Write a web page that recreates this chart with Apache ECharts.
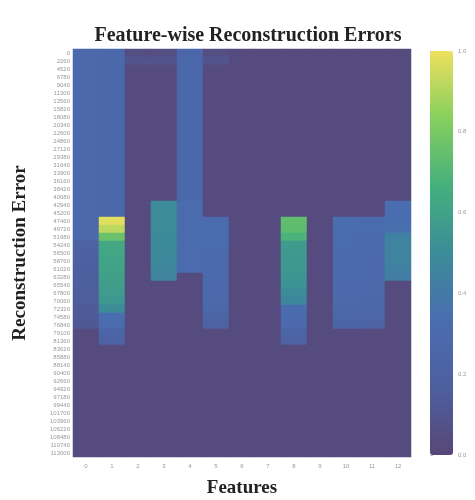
<!DOCTYPE html>
<html>
<head>
<meta charset="utf-8">
<script src="https://cdn.jsdelivr.net/npm/echarts@6/dist/echarts.min.js"></script>
<style>html,body{margin:0;padding:0;background:#fff;}#c{width:475px;height:500px;}</style>
</head>
<body>
<div id="c"></div>
<script>
var features = ['0','1','2','3','4','5','6','7','8','9','10','11','12'];
var rowLabels = ['0','2260','4520','6780','9040','11300','13560','15820','18080','20340',
  '22600','24860','27120','29380','31640','33900','36160','38420','40680','42940',
  '45200','47460','49720','51980','54240','56500','58760','61020','63280','65540',
  '67800','70060','72320','74580','76840','79100','81360','83620','85880','88140',
  '90400','92660','94920','97180','99440','101700','103960','106220','108480','110740',
  '113000'];
var colorbarTicks = ['0.0','0.2','0.4','0.6','0.8','1.0'];

var f0 = [0.28,0.28,0.28,0.28,0.28,0.28,0.28,0.28,0.28,0.28,
  0.28,0.28,0.28,0.28,0.28,0.28,0.28,0.28,0.28,0.28,
  0.28,0.28,0.28,0.28,0.2,0.19,0.18,0.17,0.16,0.16,
  0.15,0.15,0.14,0.14,0.12,0.03,0.03,0.03,0.03,0.03,
  0.03,0.03,0.03,0.03,0.03,0.03,0.03,0.03,0.03,0.03,0.03];
var f1 = [0.27,0.27,0.27,0.27,0.27,0.27,0.27,0.27,0.27,0.27,
  0.27,0.27,0.27,0.27,0.27,0.27,0.27,0.27,0.27,0.27,
  0.27,0.98,0.92,0.76,0.63,0.62,0.61,0.6,0.59,0.58,
  0.57,0.55,0.5,0.33,0.31,0.24,0.2,0.03,0.03,0.03,
  0.03,0.03,0.03,0.03,0.03,0.03,0.03,0.03,0.03,0.03,0.03];
var f2 = [0.05,0.09,0.03,0.03,0.03,0.03,0.03,0.03,0.03,0.03,
  0.03,0.03,0.03,0.03,0.03,0.03,0.03,0.03,0.03,0.03,
  0.03,0.03,0.03,0.03,0.03,0.03,0.03,0.03,0.03,0.03,
  0.03,0.03,0.03,0.03,0.03,0.03,0.03,0.03,0.03,0.03,
  0.03,0.03,0.03,0.03,0.03,0.03,0.03,0.03,0.03,0.03,0.03];
var f3 = [0.05,0.09,0.03,0.03,0.03,0.03,0.03,0.03,0.03,0.03,
  0.03,0.03,0.03,0.03,0.03,0.03,0.03,0.03,0.03,0.5,
  0.5,0.5,0.5,0.49,0.49,0.48,0.48,0.47,0.45,0.03,
  0.03,0.03,0.03,0.03,0.03,0.03,0.03,0.03,0.03,0.03,
  0.03,0.03,0.03,0.03,0.03,0.03,0.03,0.03,0.03,0.03,0.03];
var f4 = [0.26,0.27,0.27,0.27,0.27,0.27,0.27,0.27,0.27,0.27,
  0.27,0.27,0.27,0.27,0.27,0.27,0.27,0.27,0.27,0.32,
  0.32,0.32,0.32,0.32,0.32,0.32,0.32,0.31,0.03,0.03,
  0.03,0.03,0.03,0.03,0.03,0.03,0.03,0.03,0.03,0.03,
  0.03,0.03,0.03,0.03,0.03,0.03,0.03,0.03,0.03,0.03,0.03];
var f5 = [0.05,0.09,0.03,0.03,0.03,0.03,0.03,0.03,0.03,0.03,
  0.03,0.03,0.03,0.03,0.03,0.03,0.03,0.03,0.03,0.03,
  0.03,0.31,0.31,0.31,0.31,0.3,0.3,0.3,0.3,0.29,
  0.29,0.28,0.27,0.22,0.2,0.03,0.03,0.03,0.03,0.03,
  0.03,0.03,0.03,0.03,0.03,0.03,0.03,0.03,0.03,0.03,0.03];
var f6 = [0.03,0.03,0.03,0.03,0.03,0.03,0.03,0.03,0.03,0.03,
  0.03,0.03,0.03,0.03,0.03,0.03,0.03,0.03,0.03,0.03,
  0.03,0.03,0.03,0.03,0.03,0.03,0.03,0.03,0.03,0.03,
  0.03,0.03,0.03,0.03,0.03,0.03,0.03,0.03,0.03,0.03,
  0.03,0.03,0.03,0.03,0.03,0.03,0.03,0.03,0.03,0.03,0.03];
var f7 = [0.03,0.03,0.03,0.03,0.03,0.03,0.03,0.03,0.03,0.03,
  0.03,0.03,0.03,0.03,0.03,0.03,0.03,0.03,0.03,0.03,
  0.03,0.03,0.03,0.03,0.03,0.03,0.03,0.03,0.03,0.03,
  0.03,0.03,0.03,0.03,0.03,0.03,0.03,0.03,0.03,0.03,
  0.03,0.03,0.03,0.03,0.03,0.03,0.03,0.03,0.03,0.03,0.03];
var f8 = [0.03,0.03,0.03,0.03,0.03,0.03,0.03,0.03,0.03,0.03,
  0.03,0.03,0.03,0.03,0.03,0.03,0.03,0.03,0.03,0.03,
  0.03,0.74,0.73,0.68,0.57,0.56,0.55,0.55,0.54,0.53,
  0.5,0.47,0.32,0.3,0.29,0.23,0.2,0.03,0.03,0.03,
  0.03,0.03,0.03,0.03,0.03,0.03,0.03,0.03,0.03,0.03,0.03];
var f9 = [0.03,0.03,0.03,0.03,0.03,0.03,0.03,0.03,0.03,0.03,
  0.03,0.03,0.03,0.03,0.03,0.03,0.03,0.03,0.03,0.03,
  0.03,0.03,0.03,0.03,0.03,0.03,0.03,0.03,0.03,0.03,
  0.03,0.03,0.03,0.03,0.03,0.03,0.03,0.03,0.03,0.03,
  0.03,0.03,0.03,0.03,0.03,0.03,0.03,0.03,0.03,0.03,0.03];
var f10 = [0.03,0.03,0.03,0.03,0.03,0.03,0.03,0.03,0.03,0.03,
  0.03,0.03,0.03,0.03,0.03,0.03,0.03,0.03,0.03,0.03,
  0.03,0.33,0.32,0.31,0.31,0.3,0.3,0.3,0.3,0.29,
  0.29,0.28,0.27,0.26,0.23,0.03,0.03,0.03,0.03,0.03,
  0.03,0.03,0.03,0.03,0.03,0.03,0.03,0.03,0.03,0.03,0.03];
var f11 = [0.03,0.03,0.03,0.03,0.03,0.03,0.03,0.03,0.03,0.03,
  0.03,0.03,0.03,0.03,0.03,0.03,0.03,0.03,0.03,0.03,
  0.03,0.32,0.31,0.3,0.3,0.3,0.29,0.29,0.29,0.28,
  0.28,0.27,0.26,0.25,0.22,0.03,0.03,0.03,0.03,0.03,
  0.03,0.03,0.03,0.03,0.03,0.03,0.03,0.03,0.03,0.03,0.03];
var f12 = [0.03,0.03,0.03,0.03,0.03,0.03,0.03,0.03,0.03,0.03,
  0.03,0.03,0.03,0.03,0.03,0.03,0.03,0.03,0.03,0.33,
  0.33,0.34,0.35,0.44,0.45,0.45,0.45,0.44,0.42,0.03,
  0.03,0.03,0.03,0.03,0.03,0.03,0.03,0.03,0.03,0.03,
  0.03,0.03,0.03,0.03,0.03,0.03,0.03,0.03,0.03,0.03,0.03];

var columns = [f0,f1,f2,f3,f4,f5,f6,f7,f8,f9,f10,f11,f12];
var data = [];
for (var c = 0; c < columns.length; c++) {
  for (var r = 0; r < rowLabels.length; r++) {
    data.push([c, r, columns[c][r]]);
  }
}

var serif = '"Liberation Serif", "DejaVu Serif", serif';
var chart = echarts.init(document.getElementById('c'), null, {renderer: 'canvas'});
chart.setOption({
  backgroundColor: '#ffffff',
  animation: false,
  title: {
    text: 'Feature-wise Reconstruction Errors',
    left: 243, top: 21, textAlign: 'center',
    textStyle: {fontFamily: serif, fontSize: 20, fontWeight: 'bold', color: '#222'}
  },
  grid: [
    {left: 73, width: 338, top: 49, height: 408, outerBoundsMode: 'none', containLabel: false,
     show: true, backgroundColor: '#584677', borderWidth: 0},
    {left: 430, width: 23, top: 51, height: 404, outerBoundsMode: 'none', containLabel: false}
  ],
  xAxis: [
    {
      type: 'category', data: features, gridIndex: 0,
      name: 'Features', nameLocation: 'middle', nameGap: 22,
      nameTextStyle: {fontFamily: serif, fontSize: 19, fontWeight: 'bold', color: '#222'},
      axisLine: {show: false}, axisTick: {show: false},
      splitLine: {show: false}, splitArea: {show: false},
      axisLabel: {fontSize: 6, color: '#999', margin: 6}
    },
    {type: 'value', gridIndex: 1, show: false, min: 0, max: 1, splitLine: {show: false}}
  ],
  yAxis: [
    {
      type: 'category', data: rowLabels, gridIndex: 0, inverse: true,
      name: 'Reconstruction Error', nameLocation: 'middle', nameGap: 43,
      nameTextStyle: {fontFamily: serif, fontSize: 19, fontWeight: 'bold', color: '#222'},
      axisLine: {show: false}, axisTick: {show: false},
      splitLine: {show: false}, splitArea: {show: false},
      axisLabel: {fontSize: 6, color: '#999', interval: 0, margin: 3}
    },
    {
      type: 'value', gridIndex: 1, position: 'right', min: 0, max: 1, interval: 0.2,
      axisLine: {show: false}, splitLine: {show: false},
      axisTick: {show: true, length: 3, lineStyle: {color: '#bbb'}},
      axisLabel: {fontSize: 6, color: '#999', margin: 5,
        formatter: function (v) { return colorbarTicks[Math.round(v * 5)]; }}
    }
  ],
  visualMap: {
    type: 'continuous', min: 0, max: 1, calculable: false, showLabel: false,
    seriesIndex: 0, orient: 'vertical', left: 430, top: 51, padding: 0,
    itemWidth: 23, itemHeight: 404, text: ['', ''],
    inRange: {color: ['#584677', '#4d5f9f', '#4a6db0', '#3b8c98', '#45b07c', '#86cf5e', '#eee05e']}
  },
  series: [
    {type: 'heatmap', xAxisIndex: 0, yAxisIndex: 0, data: data, itemStyle: {borderWidth: 0}},
    {type: 'scatter', xAxisIndex: 1, yAxisIndex: 1, data: [], silent: true}
  ]
});
</script>
</body>
</html>
